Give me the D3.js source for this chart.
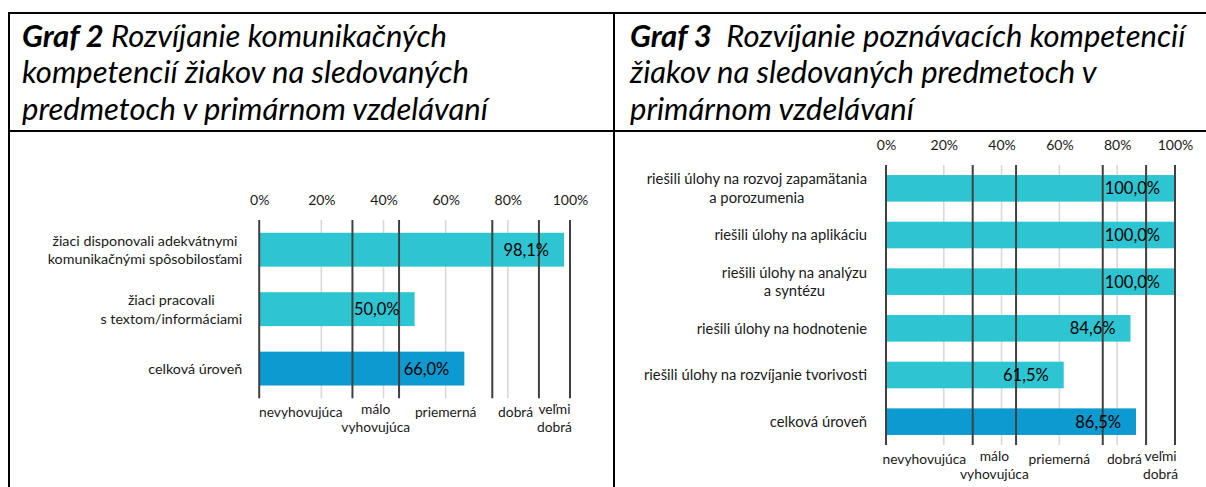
<!DOCTYPE html>
<html>
<head>
<meta charset="utf-8">
<script src="https://cdn.jsdelivr.net/npm/d3@7"></script>
<style>
  html, body { margin: 0; padding: 0; background: #fff; }
  svg { display: block; font-family: Lato, "Open Sans", sans-serif; }
</style>
</head>
<body>
<svg id="chart" width="1206" height="487"></svg>
<script>
// ---------- data ----------
const g2Title = ["Graf 2", " Rozvíjanie komunikačných", "kompetencií žiakov na sledovaných", "predmetoch v primárnom vzdelávaní"];
const g2Categories = ["žiaci disponovali adekvátnymi\nkomunikačnými spôsobilosťami", "žiaci pracovali\ns textom/informáciami", "celková úroveň"];
const g2Values = [98.1, 50.0, 66.0];

const g3Title = ["Graf 3", "  Rozvíjanie poznávacích kompetencií", "žiakov na sledovaných predmetoch v", "primárnom vzdelávaní"];
const g3Categories = ["riešili úlohy na rozvoj zapamätania\na porozumenia", "riešili úlohy na aplikáciu", "riešili úlohy na analýzu\na syntézu", "riešili úlohy na hodnotenie", "riešili úlohy na rozvíjanie tvorivosti", "celková úroveň"];
const g3Values = [100.0, 100.0, 100.0, 84.6, 61.5, 86.5];

const tickValues = [0, 20, 40, 60, 80, 100];
const tickLabels = ["0%", "20%", "40%", "60%", "80%", "100%"];
const thresholds = [0, 30, 45, 75, 90, 100];
const zoneLabels = ["nevyhovujúca", "málo\nvyhovujúca", "priemerná", "dobrá", "veľmi\ndobrá"];
const totalCategory = "celková úroveň";

// ---------- styles ----------
const colBar = "#2dc5d2";
const colTotal = "#0d9ad0";
const colDark = "#404040";
const colGrid = "#d9d9d9";
const colText = "#1a1a1a";

const svg = d3.select("#chart");

// ---------- table frame ----------
const frame = svg.append("g");
frame.append("line").attr("x1", 8).attr("x2", 1206).attr("y1", 13).attr("y2", 13).attr("stroke", "#000").attr("stroke-width", 2);
frame.append("line").attr("x1", 8).attr("x2", 1206).attr("y1", 131).attr("y2", 131).attr("stroke", "#000").attr("stroke-width", 2);
frame.append("line").attr("x1", 9).attr("x2", 9).attr("y1", 12).attr("y2", 487).attr("stroke", "#000").attr("stroke-width", 2);
frame.append("line").attr("x1", 614).attr("x2", 614).attr("y1", 12).attr("y2", 487).attr("stroke", "#000").attr("stroke-width", 2);

// ---------- titles ----------
function title(parts, x) {
  const t = svg.append("text").attr("x", x).attr("y", 46.5)
    .attr("font-size", 31).attr("font-style", "italic").attr("fill", "#000");
  t.append("tspan").attr("font-weight", "bold").text(parts[0]);
  t.append("tspan").style("white-space", "pre").text(parts[1]);
  t.append("tspan").attr("x", x).attr("dy", 36.5).text(parts[2]);
  t.append("tspan").attr("x", x).attr("dy", 36.5).text(parts[3]);
}
title(g2Title, 22);
title(g3Title, 630);

// ---------- chart builder ----------
function chart(cfg) {
  const g = svg.append("g");
  const x = d3.scaleLinear().domain([0, 100]).range([cfg.x0, cfg.x1]);
  const y = d3.scaleBand().domain(cfg.categories).range([cfg.y0, cfg.y1])
    .paddingInner(0.43).paddingOuter(0.215);

  // top axis labels
  const axis = d3.axisTop(x).tickValues(tickValues)
    .tickFormat((d, i) => tickLabels[i]).tickSize(0).tickPadding(0);
  const ax = g.append("g").attr("transform", `translate(0,${cfg.y0 - 15})`).call(axis);
  ax.select(".domain").remove();
  ax.selectAll("text").attr("font-size", 14).attr("fill", colText)
    .attr("font-family", "Lato, sans-serif");

  // light gridlines
  g.append("g").selectAll("line").data(tickValues.filter(v => !thresholds.includes(v)))
    .join("line")
    .attr("x1", d => x(d)).attr("x2", d => x(d))
    .attr("y1", cfg.y0).attr("y2", cfg.y1)
    .attr("stroke", colGrid).attr("stroke-width", 1.6);

  // bars
  const data = cfg.categories.map((c, i) => ({ c, v: cfg.values[i] }));
  g.append("g").selectAll("rect").data(data).join("rect")
    .attr("x", x(0)).attr("y", d => y(d.c))
    .attr("width", d => x(d.v) - x(0)).attr("height", y.bandwidth())
    .attr("fill", d => d.c === totalCategory ? colTotal : colBar);

  // dark threshold lines
  g.append("g").selectAll("line").data(thresholds).join("line")
    .attr("x1", d => x(d)).attr("x2", d => x(d))
    .attr("y1", cfg.y0).attr("y2", cfg.y1)
    .attr("stroke", colDark).attr("stroke-width", 2);

  // value labels
  g.append("g").selectAll("text").data(data).join("text")
    .attr("x", d => x(d.v) - 15)
    .attr("y", d => y(d.c) + y.bandwidth() / 2)
    .attr("dy", "0.36em")
    .attr("text-anchor", "end")
    .attr("font-size", 16.5).attr("fill", "#000")
    .text(d => d3.format(".1f")(d.v).replace(".", ",") + "%");

  // category labels (wrapped lines centred within a right-aligned block)
  const lh = 18.5;
  data.forEach(d => {
    const lines = d.c.split("\n");
    const t = g.append("text").attr("font-size", cfg.catSize).attr("fill", colText).attr("text-anchor", "middle");
    const spans = lines.map(ln => t.append("tspan").text(ln));
    const maxW = d3.max(spans, s => s.node().getComputedTextLength());
    const cx = cfg.x0 - cfg.labelGap - maxW / 2;
    const cy = y(d.c) + y.bandwidth() / 2 - (lines.length - 1) * lh / 2;
    spans.forEach((s, i) => s.attr("x", cx).attr("y", cy + i * lh).attr("dy", "0.36em"));
  });

  // zone labels under the chart
  zoneLabels.forEach((lab, i) => {
    const mid = (thresholds[i] + thresholds[i + 1]) / 2;
    const lines = lab.split("\n");
    const t = g.append("text").attr("font-size", 13.8).attr("fill", colText).attr("text-anchor", "middle");
    const base = lines.length > 1 ? cfg.y1 + 11 : cfg.y1 + 14;
    const cxv = i === 0 ? x(mid) - 5 : x(mid);
    lines.forEach((ln, j) => t.append("tspan").attr("x", cxv).attr("y", base + j * 18).attr("dy", "0.36em").text(ln));
  });
}

chart({ categories: g2Categories, values: g2Values, x0: 259.2, x1: 570, y0: 220, y1: 398.3, labelGap: 17, catSize: 14.3 });
chart({ categories: g3Categories, values: g3Values, x0: 886, x1: 1175, y0: 165, y1: 445, labelGap: 19, catSize: 14.8 });
</script>
</body>
</html>
